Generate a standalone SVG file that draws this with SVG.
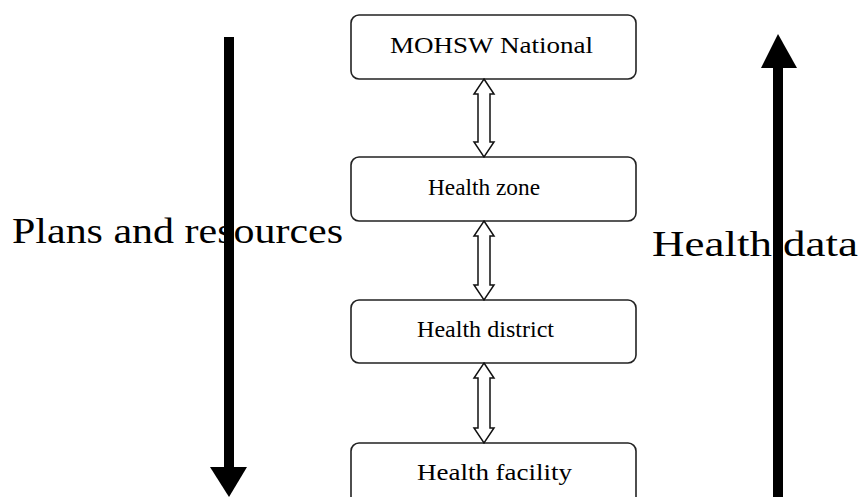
<svg xmlns="http://www.w3.org/2000/svg" width="864" height="497" viewBox="0 0 864 497">
<style>
.box{fill:#fff;stroke:#222;stroke-width:1.6}
.lbl{font-family:"Liberation Serif","Times New Roman",serif;font-size:23px;fill:#000}
.big{font-family:"Liberation Serif","Times New Roman",serif;font-size:36px;fill:#000}
.dbl{fill:#fff;stroke:#111;stroke-width:1.5;stroke-linejoin:miter}
.thick{fill:#000;stroke:none}
</style>
<rect width="864" height="497" fill="#fff"/>
<g id="label-plans"><text class="big" x="12" y="243" textLength="331" lengthAdjust="spacingAndGlyphs">Plans and resources</text></g>
<g id="label-data"><text class="big" x="652" y="256" textLength="206" lengthAdjust="spacingAndGlyphs">Health data</text></g>
<g id="n1"><rect class="box" x="351" y="15" width="285" height="64" rx="8"/><text class="lbl" x="390" y="53" textLength="203" lengthAdjust="spacingAndGlyphs">MOHSW National</text></g>
<g id="n2"><rect class="box" x="351" y="157" width="285" height="64" rx="8"/><text class="lbl" x="428" y="195" textLength="112" lengthAdjust="spacingAndGlyphs">Health zone</text></g>
<g id="n3"><rect class="box" x="351" y="300" width="285" height="63" rx="8"/><text class="lbl" x="417" y="337" textLength="137" lengthAdjust="spacingAndGlyphs">Health district</text></g>
<g id="n4"><rect class="box" x="351" y="443" width="285" height="70" rx="8"/><text class="lbl" x="417" y="480" textLength="155" lengthAdjust="spacingAndGlyphs">Health facility</text></g>
<g id="connectors">
<polygon class="dbl" points="484,79 494,94 490,94 490,142 494,142 484,157 474,142 478,142 478,94 474,94"/>
<polygon class="dbl" points="484,221 494,236 490,236 490,285 494,285 484,300 474,285 478,285 478,236 474,236"/>
<polygon class="dbl" points="484,363 494,378 490,378 490,428 494,428 484,443 474,428 478,428 478,378 474,378"/>
<rect class="thick" x="224" y="37" width="10" height="431"/>
<polygon class="thick" points="210,467 247,467 229,497"/>
<rect class="thick" x="773" y="67" width="10" height="430"/>
<polygon class="thick" points="761,68 797,68 778,34"/>
</g>
</svg>
